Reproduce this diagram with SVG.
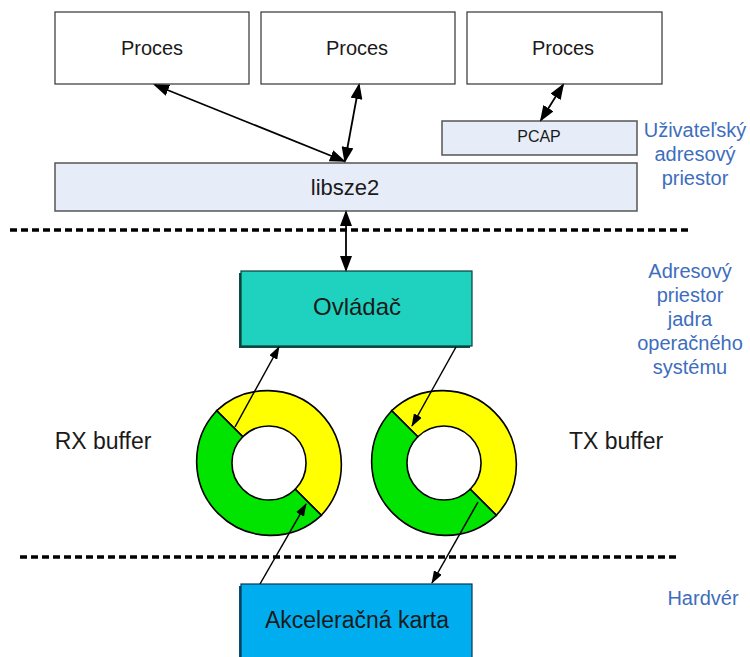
<svg xmlns="http://www.w3.org/2000/svg" width="750" height="657" viewBox="0 0 750 657">
<style>
text{font-family:"Liberation Sans",Arial,sans-serif;fill:#1a1a1a;text-anchor:middle}
.proc{fill:#fff;stroke:#333;stroke-width:1.2}
.lib{fill:#E7EDF8;stroke:#555;stroke-width:1.5}
.blue{fill:#3E6DBE;font-size:20px}
.big{font-size:23px}
.conn{stroke:#000;stroke-width:1.8;fill:none}
.thin{stroke:#000;stroke-width:1.5;fill:none}
.dash{stroke:#000;stroke-width:3.5;stroke-dasharray:7 4;fill:none}
.ring{stroke:#000;stroke-width:1.6}
</style>
<defs>
<marker id="ah" markerUnits="userSpaceOnUse" markerWidth="16" markerHeight="12" refX="14" refY="6" orient="auto-start-reverse" viewBox="0 0 16 12">
<path d="M0,0 L16,6 L0,12 z" fill="#000"/>
</marker>
<marker id="as" markerUnits="userSpaceOnUse" markerWidth="13" markerHeight="9" refX="12" refY="4.5" orient="auto" viewBox="0 0 13 9">
<path d="M0,0 L13,4.5 L0,9 z" fill="#000"/>
</marker>
</defs>

<g id="separators">
<line class="dash" x1="10" y1="230" x2="692" y2="230"/>
<line class="dash" x1="20" y1="557" x2="676" y2="557"/>
</g>

<g id="proces1"><rect class="proc" x="55" y="12" width="194" height="72"/><text x="152" y="55" font-size="20">Proces</text></g>
<g id="proces2"><rect class="proc" x="261" y="12" width="194" height="72"/><text x="357" y="55" font-size="20">Proces</text></g>
<g id="proces3"><rect class="proc" x="467" y="12" width="195" height="72"/><text x="563" y="55" font-size="20">Proces</text></g>
<g id="pcap"><rect class="lib" x="442" y="121" width="195" height="34"/><text x="539" y="142" font-size="16">PCAP</text></g>
<g id="libsze2"><rect class="lib" x="55" y="163" width="582" height="48"/><text x="345" y="195" font-size="22">libsze2</text></g>

<g id="ovladac">
<rect x="239" y="273" width="231" height="75" fill="#0c4f49"/>
<rect x="241" y="271" width="231" height="75" fill="#1FD2BF" stroke="#0b3d38" stroke-width="1.2"/>
<text x="357" y="315" font-size="24">Ovládač</text>
</g>
<g id="karta">
<rect x="239" y="586" width="231" height="80" fill="#0a4f78"/>
<rect x="241" y="584" width="231" height="80" fill="#00AEEF" stroke="#0a3550" stroke-width="1.2"/>
<text x="357" y="628" class="big">Akceleračná karta</text>
</g>

<g id="rx-ring">
<path class="ring" fill="#FFFF00" d="M216.7,410.7 A74,74 0 0 1 321.3,515.3 L295.2,489.2 A37,37 0 0 0 242.8,436.8 Z"/>
<path class="ring" fill="#00E400" d="M321.3,515.3 A74,74 0 0 1 216.7,410.7 L242.8,436.8 A37,37 0 0 0 295.2,489.2 Z"/>
</g>
<g id="tx-ring">
<path class="ring" fill="#FFFF00" d="M391.7,410.7 A74,74 0 0 1 496.3,515.3 L470.2,489.2 A37,37 0 0 0 417.8,436.8 Z"/>
<path class="ring" fill="#00E400" d="M496.3,515.3 A74,74 0 0 1 391.7,410.7 L417.8,436.8 A37,37 0 0 0 470.2,489.2 Z"/>
</g>

<g id="labels">
<text x="103" y="449" class="big">RX buffer</text>
<text x="616" y="449" class="big">TX buffer</text>
<text class="blue" x="695" y="137">Uživateľský</text>
<text class="blue" x="695" y="161">adresový</text>
<text class="blue" x="695" y="185">priestor</text>
<text class="blue" x="690" y="278">Adresový</text>
<text class="blue" x="690" y="302">priestor</text>
<text class="blue" x="690" y="326">jadra</text>
<text class="blue" x="690" y="350">operačného</text>
<text class="blue" x="690" y="374">systému</text>
<text class="blue" x="703" y="605">Hardvér</text>
</g>

<g id="connectors">
<line class="conn" x1="155" y1="85" x2="344" y2="161" marker-start="url(#ah)" marker-end="url(#ah)"/>
<line class="conn" x1="359" y1="85" x2="345" y2="161" marker-start="url(#ah)" marker-end="url(#ah)"/>
<line class="conn" x1="563" y1="85" x2="541" y2="120" marker-start="url(#ah)" marker-end="url(#ah)"/>
<line class="conn" x1="346" y1="212" x2="346" y2="270" marker-start="url(#ah)" marker-end="url(#ah)"/>
<line class="thin" x1="235" y1="427" x2="279" y2="347" marker-end="url(#as)"/>
<line class="thin" x1="456" y1="347" x2="412" y2="426" marker-end="url(#as)"/>
<line class="thin" x1="260" y1="584" x2="306" y2="504" marker-end="url(#as)"/>
<line class="thin" x1="478" y1="502" x2="432" y2="583" marker-end="url(#as)"/>
</g>
</svg>
